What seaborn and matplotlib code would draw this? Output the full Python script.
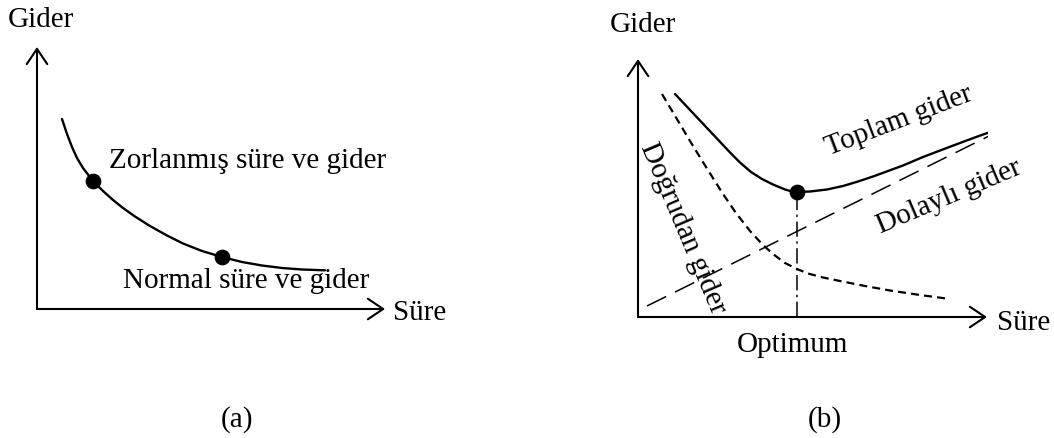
import numpy as np
import pandas as pd
import matplotlib
matplotlib.use("Agg")
import matplotlib.pyplot as plt
import seaborn as sns

# ====================== data (arbitrary units) ======================
# (a) time-cost curve
a_sure = [2.5, 3.0, 3.5, 4.0, 4.6, 5.6, 6.6, 7.6, 8.6, 9.8, 11.3, 13.0, 14.6, 16.5,
          18.5, 20.5, 22.5, 24.5, 26.5, 28.8]
a_gider = [19.0, 17.5, 16.2, 15.1, 14.1, 12.8, 11.8, 10.9, 10.1, 9.25, 8.3, 7.35, 6.55, 5.8,
           5.2, 4.7, 4.35, 4.1, 3.95, 3.87]
a_points_x = [5.6, 18.5]          # zorlanmış, normal
a_points_y = [12.8, 5.2]

# (b) toplam / doğrudan / dolaylı gider
toplam_x = [3.7, 5.3, 6.9, 8.5, 9.4, 10.2, 11.3, 12.4, 13.5, 14.7, 15.3, 15.9, 17.2, 18.9,
            20.5, 22.0, 23.5, 25.0, 26.5, 28.5, 31.0, 33.0, 35.2]
toplam_y = [22.3, 20.6, 18.9, 17.2, 16.25, 15.45, 14.5, 13.8, 13.25, 12.75, 12.58, 12.5, 12.55, 12.75,
            13.1, 13.55, 14.05, 14.6, 15.15, 16.0, 16.95, 17.7, 18.5]
dogrudan_x = [2.4, 3.8, 5.2, 6.8, 8.5, 9.8, 11.2, 12.4, 13.5, 14.7, 15.9, 17.0, 18.5, 20.2,
              22.7, 25.2, 28.2, 31.2]
dogrudan_y = [22.3, 19.95, 17.6, 15.0, 12.3, 10.4, 8.6, 7.3, 6.3, 5.4, 4.8, 4.35, 3.95, 3.6,
              3.1, 2.65, 2.2, 1.8]
dolayli_x = [0.9, 35.3]
dolayli_y = [1.1, 18.2]
optimum_x = 15.9
optimum_y = 12.5

# ====================== style ======================
sns.set_theme(style="white")
plt.rcParams['font.family'] = ['Liberation Serif', 'DejaVu Serif']
plt.rcParams['text.color'] = 'black'
FS = 21
K = 'black'

fig = plt.figure(figsize=(10.54, 4.39), dpi=100)
W, H = 1054, 439
ax1 = fig.add_axes([37 / W, 129 / H, 350 / W, 270 / H])
ax2 = fig.add_axes([638 / W, 121 / H, 350 / W, 270 / H])


def draw_axes(ax, xtip, ytip):
    ax.set_xlim(0, 35)
    ax.set_ylim(0, 27)
    ax.axis('off')
    arrow = dict(arrowstyle='->,head_length=0.55,head_width=0.37', lw=1.5,
                 color=K, mutation_scale=20, shrinkA=0, shrinkB=0)
    ax.annotate('', xy=(xtip, 0), xytext=(0, 0), arrowprops=arrow, annotation_clip=False)
    ax.annotate('', xy=(0, ytip), xytext=(0, 0), arrowprops=arrow, annotation_clip=False)


# ====================== (a) ======================
draw_axes(ax1, 34.8, 26.2)
df_a = pd.DataFrame({'sure': a_sure, 'gider': a_gider})
sns.lineplot(data=df_a, x='sure', y='gider', ax=ax1, color=K, lw=1.7, sort=False)
sns.scatterplot(x=a_points_x, y=a_points_y, ax=ax1, color=K, s=110, edgecolor=K, zorder=5)
ax1.text(7.2, 14.2, "Zorlanmış süre ve gider", fontsize=FS, va='baseline')
ax1.text(8.6, 2.2, "Normal süre ve gider", fontsize=FS, va='baseline')
ax1.text(35.6, -0.3, "Süre", fontsize=FS, va='center')
ax1.text(-2.9, 28.3, "Gider", fontsize=FS, va='baseline')
ax1.text(20.0, -11.0, "(a)", fontsize=FS, ha='center', va='center')

# ====================== (b) ======================
draw_axes(ax2, 34.9, 25.8)
df_t = pd.DataFrame({'sure': toplam_x, 'gider': toplam_y})
df_d = pd.DataFrame({'sure': dogrudan_x, 'gider': dogrudan_y})
df_l = pd.DataFrame({'sure': dolayli_x, 'gider': dolayli_y})
sns.lineplot(data=df_t, x='sure', y='gider', ax=ax2, color=K, lw=1.7, sort=False)
sns.lineplot(data=df_d, x='sure', y='gider', ax=ax2, color=K, lw=1.6, sort=False,
             linestyle=(0, (3.6, 2.3)))
sns.lineplot(data=df_l, x='sure', y='gider', ax=ax2, color=K, lw=1.1, sort=False,
             linestyle=(0, (14, 6.5)))
ax2.plot([optimum_x, optimum_x], [0, optimum_y], color=K, lw=1.1,
         linestyle=(0, (10, 3, 1.5, 3)))
sns.scatterplot(x=[optimum_x], y=[optimum_y], ax=ax2, color=K, s=110, edgecolor=K, zorder=5)

ax2.text(26.1, 19.7, "Toplam gider", fontsize=FS, ha='center', va='center',
         rotation=21, rotation_mode='anchor')
ax2.text(31.1, 12.1, "Dolaylı gider", fontsize=FS, ha='center', va='center',
         rotation=23, rotation_mode='anchor')
ax2.text(4.5, 9.0, "Doğrudan gider", fontsize=FS, ha='center', va='center',
         rotation=-67, rotation_mode='anchor')
ax2.text(15.4, -3.4, "Optimum", fontsize=FS, ha='center', va='baseline')
ax2.text(35.9, -0.5, "Süre", fontsize=FS, va='center')
ax2.text(-2.8, 28.6, "Gider", fontsize=FS, va='baseline')
ax2.text(18.7, -10.2, "(b)", fontsize=FS, ha='center', va='center')

fig.savefig("out.png", dpi=100)
